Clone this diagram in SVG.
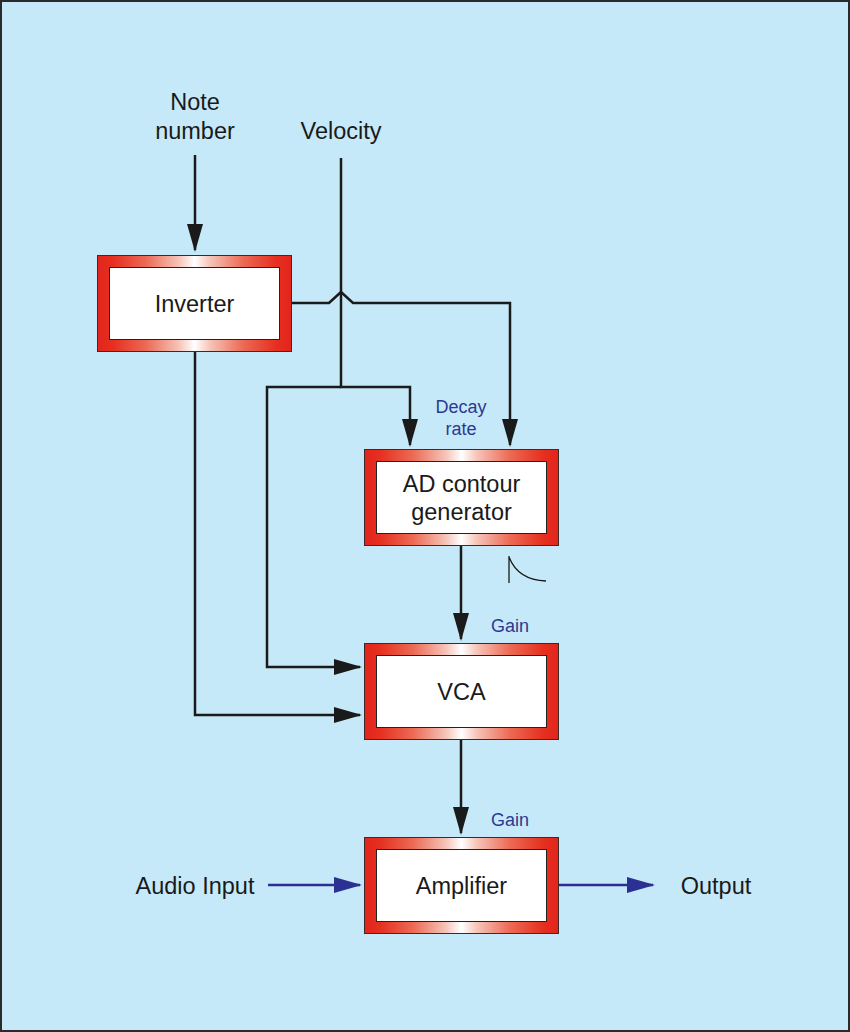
<svg xmlns="http://www.w3.org/2000/svg" width="850" height="1032" viewBox="0 0 850 1032">
<defs>
<linearGradient id="bord" x1="0" y1="0" x2="1" y2="0">
<stop offset="0" stop-color="#e3241c"/>
<stop offset="0.08" stop-color="#e5301f"/>
<stop offset="0.25" stop-color="#ec6a55"/>
<stop offset="0.42" stop-color="#f6c4b8"/>
<stop offset="0.5" stop-color="#ffffff"/>
<stop offset="0.58" stop-color="#f6c4b8"/>
<stop offset="0.75" stop-color="#ec6a55"/>
<stop offset="0.92" stop-color="#e5301f"/>
<stop offset="1" stop-color="#e3241c"/>
</linearGradient>
<marker id="ab" markerUnits="userSpaceOnUse" markerWidth="30" markerHeight="17" refX="26" refY="8" orient="auto">
<path d="M0,0 L28,8 L0,16 z" fill="#1a1a1a"/>
</marker>
<marker id="ablue" markerUnits="userSpaceOnUse" markerWidth="30" markerHeight="17" refX="26" refY="8" orient="auto">
<path d="M0,0 L28,8 L0,16 z" fill="#2b3192"/>
</marker>
<style>
.outer{fill:url(#bord);stroke:#3a2a2a;stroke-width:1}
.inner{fill:#ffffff;stroke:#222;stroke-width:1}
.lbl{font-family:"Liberation Sans",Arial,sans-serif;font-size:23.5px;fill:#1a1a1a;text-anchor:middle}
.blue{font-family:"Liberation Sans",Arial,sans-serif;font-size:18px;fill:#2b3990;text-anchor:middle}
.wire{fill:none;stroke:#1a1a1a;stroke-width:2.5}
.bwire{fill:none;stroke:#2b3192;stroke-width:2.5}
</style>
</defs>
<rect x="1" y="1" width="848" height="1030" fill="#c6e9f9" stroke="#2a2a2a" stroke-width="2"/>

<g id="labels">
<text class="lbl" x="195" y="110">Note</text>
<text class="lbl" x="195" y="139">number</text>
<text class="lbl" x="341" y="139">Velocity</text>
<text class="blue" x="461" y="413">Decay</text>
<text class="blue" x="461" y="435">rate</text>
<text class="blue" x="510" y="632">Gain</text>
<text class="blue" x="510" y="826">Gain</text>
<text class="lbl" x="195" y="894">Audio Input</text>
<text class="lbl" x="716" y="894">Output</text>
</g>

<g id="connectors">
<path class="wire" d="M195,155 V250" marker-end="url(#ab)"/>
<path class="wire" d="M341,158 V387 H410 V445" marker-end="url(#ab)"/>
<path class="wire" d="M341,387 H267 V667 H360" marker-end="url(#ab)"/>
<path class="wire" d="M292,303 H329 L341,292 L353,303 H510 V445" marker-end="url(#ab)"/>
<path class="wire" d="M195,352 V715 H360" marker-end="url(#ab)"/>
<path class="wire" d="M461,546 V639" marker-end="url(#ab)"/>
<path class="wire" d="M461,740 V833" marker-end="url(#ab)"/>
<path class="bwire" d="M268,885 H360" marker-end="url(#ablue)"/>
<path class="bwire" d="M558,885 H653" marker-end="url(#ablue)"/>
<path d="M509,556 V583 M509,557 Q518,580 546,581" fill="none" stroke="#1a1a1a" stroke-width="1.3"/>
</g>

<g id="inverter">
<rect class="outer" x="97.5" y="255.5" width="194" height="96"/>
<rect class="inner" x="109.5" y="267.5" width="170" height="72"/>
<text class="lbl" x="194.5" y="312">Inverter</text>
</g>

<g id="adgen">
<rect class="outer" x="364.5" y="449.5" width="194" height="96"/>
<rect class="inner" x="376.5" y="461.5" width="170" height="72"/>
<text class="lbl" x="461.5" y="492">AD contour</text>
<text class="lbl" x="461.5" y="520">generator</text>
</g>

<g id="vca">
<rect class="outer" x="364.5" y="643.5" width="194" height="96"/>
<rect class="inner" x="376.5" y="655.5" width="170" height="72"/>
<text class="lbl" x="461.5" y="700">VCA</text>
</g>

<g id="amplifier">
<rect class="outer" x="364.5" y="837.5" width="194" height="96"/>
<rect class="inner" x="376.5" y="849.5" width="170" height="72"/>
<text class="lbl" x="461.5" y="894">Amplifier</text>
</g>
</svg>
